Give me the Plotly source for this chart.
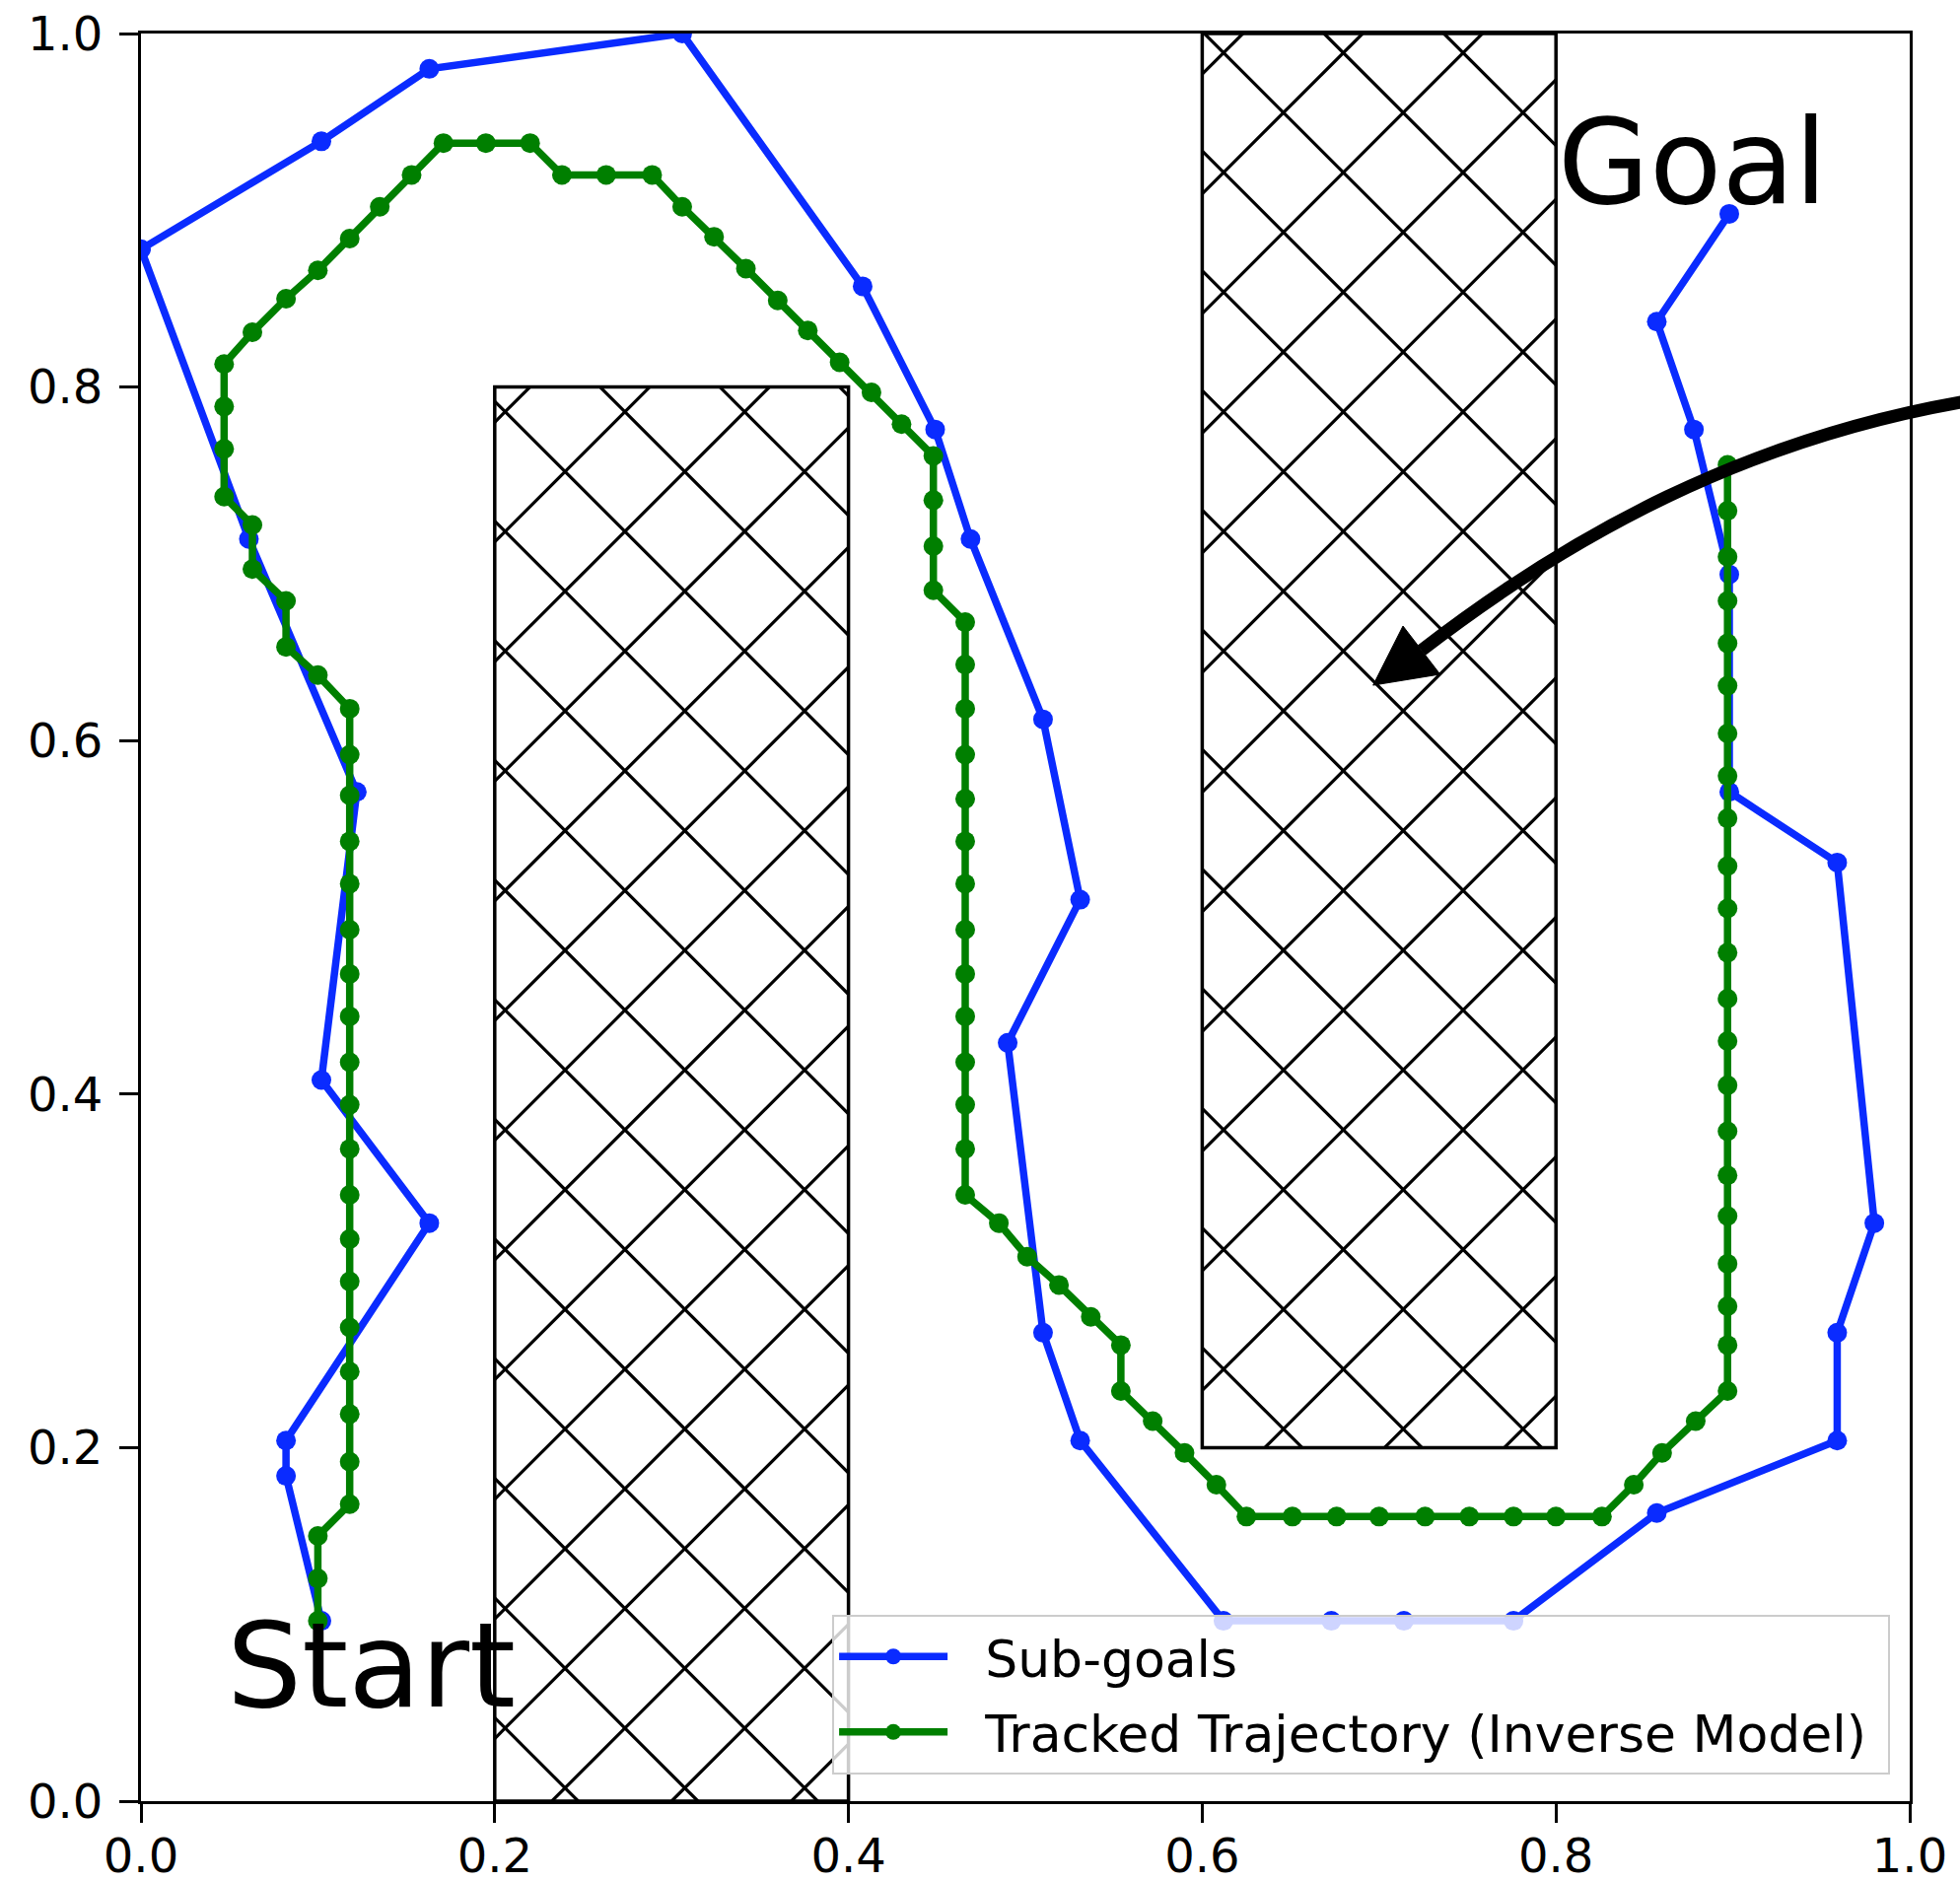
import plotly.graph_objects as go

# ---------------- data ----------------
subgoal_x = [0.102, 0.082, 0.082, 0.163, 0.102, 0.122, 0.061, 0.0, 0.102, 0.163,
             0.306, 0.408, 0.449, 0.469, 0.510, 0.531, 0.490, 0.510, 0.531, 0.612,
             0.673, 0.714, 0.776, 0.857, 0.959, 0.959, 0.980, 0.959, 0.898, 0.898,
             0.878, 0.857, 0.898]
subgoal_y = [0.102, 0.184, 0.204, 0.327, 0.408, 0.571, 0.714, 0.878, 0.939, 0.980,
             1.0, 0.857, 0.776, 0.714, 0.612, 0.510, 0.429, 0.265, 0.204, 0.102,
             0.102, 0.102, 0.102, 0.163, 0.204, 0.265, 0.327, 0.531, 0.571, 0.694,
             0.776, 0.837, 0.898]

tracked_x = [0.100, 0.100, 0.100,
             0.118, 0.118, 0.118, 0.118, 0.118, 0.118, 0.118, 0.118, 0.118, 0.118,
             0.118, 0.118, 0.118, 0.118, 0.118, 0.118, 0.118, 0.118, 0.118,
             0.100, 0.082, 0.082, 0.063, 0.063, 0.047, 0.047, 0.047, 0.047, 0.063,
             0.082, 0.100, 0.118, 0.135, 0.153, 0.171, 0.195, 0.220, 0.238, 0.263,
             0.289, 0.306, 0.324, 0.342, 0.360, 0.377, 0.395, 0.413, 0.430, 0.448,
             0.448, 0.448, 0.448,
             0.466, 0.466, 0.466, 0.466, 0.466, 0.466, 0.466, 0.466, 0.466, 0.466,
             0.466, 0.466, 0.466, 0.466,
             0.485, 0.501, 0.519, 0.537, 0.554, 0.554, 0.572, 0.590, 0.608,
             0.625, 0.651, 0.676, 0.700, 0.726, 0.751, 0.776, 0.800, 0.826,
             0.844, 0.860, 0.879,
             0.897, 0.897, 0.897, 0.897, 0.897, 0.897, 0.897, 0.897, 0.897, 0.897,
             0.897, 0.897, 0.897, 0.897, 0.897, 0.897, 0.897, 0.897, 0.897, 0.897,
             0.897, 0.897]
tracked_y = [0.102, 0.126, 0.150,
             0.168, 0.192, 0.219, 0.243, 0.268, 0.294, 0.318, 0.343, 0.369, 0.394,
             0.418, 0.444, 0.468, 0.493, 0.519, 0.543, 0.569, 0.592, 0.618,
             0.637, 0.653, 0.679, 0.697, 0.722, 0.738, 0.765, 0.789, 0.813, 0.831,
             0.850, 0.866, 0.884, 0.902, 0.920, 0.938, 0.938, 0.938, 0.920, 0.920,
             0.920, 0.902, 0.885, 0.867, 0.849, 0.832, 0.814, 0.797, 0.779, 0.761,
             0.736, 0.710, 0.685,
             0.667, 0.643, 0.618, 0.592, 0.567, 0.543, 0.519, 0.493, 0.468, 0.444,
             0.418, 0.394, 0.369, 0.343,
             0.327, 0.308, 0.292, 0.274, 0.258, 0.232, 0.215, 0.197, 0.179,
             0.161, 0.161, 0.161, 0.161, 0.161, 0.161, 0.161, 0.161, 0.161,
             0.179, 0.197, 0.215,
             0.232, 0.258, 0.280, 0.304, 0.331, 0.354, 0.379, 0.405, 0.430, 0.454,
             0.480, 0.505, 0.529, 0.556, 0.580, 0.604, 0.631, 0.655, 0.679, 0.704,
             0.730, 0.756]

obstacle_x0 = [0.2, 0.6]
obstacle_x1 = [0.4, 0.8]
obstacle_y0 = [0.0, 0.2]
obstacle_y1 = [0.8, 1.0]

tick_vals = [0.0, 0.2, 0.4, 0.6, 0.8, 1.0]
tick_text = ["0.0", "0.2", "0.4", "0.6", "0.8", "1.0"]

series_names = ["Sub-goals", "Tracked Trajectory (Inverse Model)"]

# ---------------- styling ----------------
BLUE = "#0a2bff"
GREEN = "#007f00"
FONT = "DejaVu Sans"
W, H = 1988, 1908
ML, MR, MT, MB = 143, 51, 34, 81
NB = "\u00a0"

# cross-hatch lattice (x - y = a0 + k p ; x + y = b0 + k p)
hatch_period = 0.0677
hatch_a0 = -0.5124
hatch_b0 = 0.9919

hx, hy = [], []
for x0, x1, y0, y1 in zip(obstacle_x0, obstacle_x1, obstacle_y0, obstacle_y1):
    for k in range(-60, 61):
        c = hatch_a0 + k * hatch_period
        xa, xb = max(x0, y0 + c), min(x1, y1 + c)
        if xb > xa:
            hx += [xa, xb, None]
            hy += [xa - c, xb - c, None]
        c = hatch_b0 + k * hatch_period
        xa, xb = max(x0, c - y1), min(x1, c - y0)
        if xb > xa:
            hx += [xa, xb, None]
            hy += [c - xa, c - xb, None]

fig = go.Figure()
fig.add_trace(go.Scatter(x=hx, y=hy, mode="lines",
                         line=dict(color="black", width=3.2),
                         hoverinfo="skip", showlegend=False))
fig.add_trace(go.Scatter(x=subgoal_x, y=subgoal_y, mode="lines+markers",
                         name=NB + NB + series_names[0], legendgroup="a",
                         line=dict(color=BLUE, width=7.5),
                         marker=dict(color=BLUE, size=20)))
fig.add_trace(go.Scatter(x=tracked_x, y=tracked_y, mode="lines+markers",
                         name=NB + NB + series_names[1] + NB, legendgroup="b",
                         line=dict(color=GREEN, width=7.5),
                         marker=dict(color=GREEN, size=20)))

shapes = []
for x0, x1, y0, y1 in zip(obstacle_x0, obstacle_x1, obstacle_y0, obstacle_y1):
    shapes.append(dict(type="rect", xref="x", yref="y", x0=x0, x1=x1, y0=y0, y1=y1,
                       line=dict(color="black", width=3.5), fillcolor="rgba(0,0,0,0)",
                       layer="above"))

# curved annotation arrow (paper coordinates)
arrow_start = (1.0351, 0.7925)
arrow_c1 = (0.9075, 0.7712)
arrow_c2 = (0.8076, 0.7157)
arrow_base = (0.7240, 0.6511)
head_tip = (0.6966, 0.6313)
head_a = (0.7135, 0.6648)
head_b = (0.7345, 0.6375)
shapes.append(dict(type="path", xref="paper", yref="paper",
                   path="M %f,%f C %f,%f %f,%f %f,%f" % (*arrow_start, *arrow_c1, *arrow_c2, *arrow_base),
                   line=dict(color="black", width=13), fillcolor="rgba(0,0,0,0)"))
shapes.append(dict(type="path", xref="paper", yref="paper",
                   path="M %f,%f L %f,%f L %f,%f Z" % (*head_tip, *head_a, *head_b),
                   line=dict(color="black", width=1), fillcolor="black"))

TXT = 120
annotations = [
    dict(x=0.8, y=0.9, xref="x", yref="y", text="Goal", showarrow=False,
         xanchor="left", yanchor="bottom", yshift=-23, xshift=0,
         font=dict(family=FONT, size=TXT, color="black")),
    dict(x=0.05, y=0.05, xref="x", yref="y", text="Start", showarrow=False,
         xanchor="left", yanchor="bottom", yshift=-24, xshift=-5,
         font=dict(family=FONT, size=TXT, color="black")),
]

axis_common = dict(range=[0, 1], showgrid=False, zeroline=False, showline=True,
                   mirror=True, linecolor="black", linewidth=3,
                   ticks="outside", ticklen=19, tickwidth=3, tickcolor="black",
                   tickvals=tick_vals, ticktext=tick_text, automargin=False,
                   tickfont=dict(family=FONT, size=48, color="black"))

fig.update_layout(
    template="none",
    width=W, height=H,
    margin=dict(l=ML, r=MR, t=MT, b=MB, pad=0),
    paper_bgcolor="white", plot_bgcolor="white",
    xaxis=dict(**axis_common, ticklabelstandoff=-8),
    yaxis=dict(**axis_common, ticklabelstandoff=7),
    shapes=shapes,
    annotations=annotations,
    showlegend=True,
    legend=dict(x=0.3908, y=0.0151, xanchor="left", yanchor="bottom",
                bgcolor="rgba(255,255,255,0.8)", bordercolor="#cccccc", borderwidth=2,
                font=dict(family=FONT, size=52, color="black"),
                itemwidth=110, traceorder="grouped", tracegroupgap=6),
    font=dict(family=FONT),
)

fig.write_html("out.html", config={"displayModeBar": False},
               post_script="document.body.style.margin='0px';")
